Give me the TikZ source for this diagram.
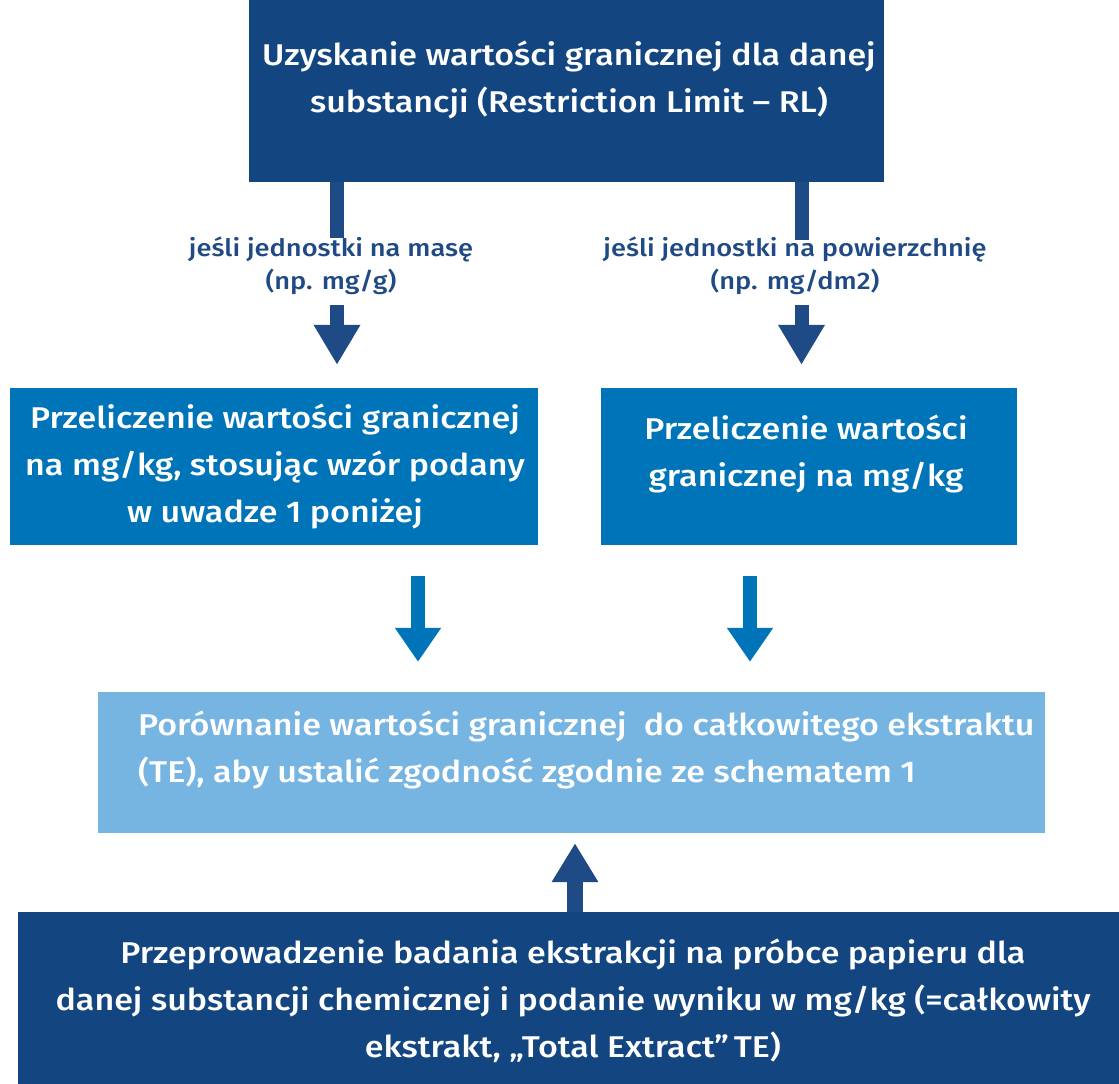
\documentclass[tikz,border=0pt]{standalone}
\usepackage{fontspec}
\setmainfont{Fira Sans}[UprightFont={* Medium}, FakeStretch=1.135]
\usetikzlibrary{arrows.meta}
\definecolor{navy}{HTML}{134680}
\definecolor{arrownavy}{HTML}{1E4A85}
\definecolor{midblue}{HTML}{0074B9}
\definecolor{lightblue}{HTML}{76B4E2}
\definecolor{labelblue}{HTML}{1F4A85}
\tikzset{
  boxshape/.style={rectangle, inner sep=0pt, draw=none},
  boxtext/.style={text=white, align=center, inner sep=0pt, font=\fontsize{30}{47}\selectfont},
  lbl/.style={text=labelblue, align=center, inner sep=0pt, font=\fontsize{24}{33}\selectfont},
  stem/.style={draw=arrownavy, line width=14pt},
  arrdark/.style={draw=arrownavy, line width=14pt, -{Triangle[width=44pt,length=40pt]}},
  arrmid/.style={draw=midblue, line width=14pt, -{Triangle[width=44pt,length=34pt]}},
}
\begin{document}
\begin{tikzpicture}[x=1pt,y=-1pt]
\useasboundingbox (0,0) rectangle (1119,1084);
% boxes
\node[boxshape, fill=navy, minimum width=635pt, minimum height=182pt] (top) at (566.5,91) {};
\node[boxtext] (toptext) at (569,80) {Uzyskanie wartości granicznej dla danej\\substancji (Restriction Limit – RL)};
\node[boxshape, fill=midblue, minimum width=528pt, minimum height=157pt] (m1) at (274,466.5) {};
\node[boxtext] (m1text) at (275,466) {Przeliczenie wartości granicznej\\na mg/kg, stosując wzór podany\\w uwadze 1 poniżej};
\node[boxshape, fill=midblue, minimum width=416pt, minimum height=157pt] (m2) at (809,466.5) {};
\node[boxtext] (m2text) at (806,454) {Przeliczenie wartości\\granicznej na mg/kg};
\node[boxshape, fill=lightblue, minimum width=947pt, minimum height=141pt] (light) at (571.5,762.5) {};
\node[boxtext, align=left, anchor=west] (lighttext) at (138,750) {Porównanie wartości granicznej\ \ do całkowitego ekstraktu\\(TE), aby ustalić zgodność zgodnie ze schematem 1};
\node[boxshape, fill=navy, minimum width=1101pt, minimum height=172pt] (bot) at (568.5,998) {};
\node[boxtext] (bottext) at (573,1001) {Przeprowadzenie badania ekstrakcji na próbce papieru dla\\danej substancji chemicznej i podanie wyniku w mg/kg (=całkowity\\ekstrakt, „Total Extract”\,TE)};
% labels
\node[lbl] (lab1) at (331,266) {jeśli jednostki na masę\\(np. mg/g)};
\node[lbl] (lab2) at (795,266) {jeśli jednostki na powierzchnię\\(np. mg/dm2)};
% coordinates
\coordinate (s1) at (337,238);
\coordinate (s2) at (801.5,240);
\coordinate (a1) at (337,305);
\coordinate (a2) at (801.5,305);
\coordinate (b1) at (418,576);
\coordinate (b2) at (750,576);
\coordinate (u) at (575,912);
% connectors
\draw[stem] (top.south -| s1) -- (s1);
\draw[stem] (top.south -| s2) -- (s2);
\draw[arrdark, shorten >=23pt] (a1) -- (m1.north -| a1);
\draw[arrdark, shorten >=23pt] (a2) -- (m2.north -| a2);
\draw[arrmid, shorten <=31pt, shorten >=30pt] (m1.south -| b1) -- (light.north -| b1);
\draw[arrmid, shorten <=31pt, shorten >=30pt] (m2.south -| b2) -- (light.north -| b2);
\draw[arrdark, line width=16pt, -{Triangle[width=44pt,length=39pt]}, shorten >=10pt] (bot.north -| u) -- (light.south -| u);
\end{tikzpicture}
\end{document}
